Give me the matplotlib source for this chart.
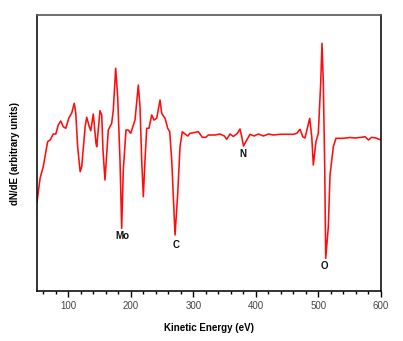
import matplotlib
matplotlib.use("Agg")
import matplotlib.pyplot as plt
from matplotlib.ticker import MultipleLocator, NullLocator

# Auger derivative spectrum: kinetic energy (eV) and dN/dE (arbitrary units)
energy = [50, 55, 60, 67, 71, 76, 80, 84, 88, 92, 96, 101, 105.5, 109.6, 112, 115,
          119, 121.5, 127, 129.5, 133.6, 136, 140, 144.3, 145.5, 150.7, 153.5, 155.5,
          158.7, 164, 169.4, 172, 175.8, 179, 182.7, 185.4, 188, 192.3, 196, 199.8,
          206.7, 212, 214.7, 217.4, 220, 222.7, 225.4, 229, 233.4, 237, 241.4, 246.7,
          249.4, 254.7, 259, 262.2, 265.4, 270.7, 275, 278.7, 282.3, 286.7, 291, 294.6,
          300, 308, 314.3, 319.8, 324, 334.6, 342.6, 349.5, 353.3, 358.6, 364, 370.3,
          374.6, 377.3, 380.2, 385.3, 390.6, 397, 404, 412, 420, 428, 438.6, 449.3,
          460, 465.3, 470.5, 475, 478.5, 486, 489.3, 491.8, 496, 499.8, 503.6, 505.7,
          507.8, 510, 511.6, 515.8, 518.5, 523.8, 528, 540, 550.5, 558.5, 569, 574.5,
          580, 585, 592, 600]
signal = [-69, -45, -33.7, -8.7, -7, -1, -1, 8, 12, 6.3, 4.7, 15, 20, 29.7, 20, -13.7,
          -38.7, -33.7, 6.3, 15.7, 6.3, 2.3, 19, -10.3, -13.7, 22.3, 18, -17, -47, 3,
          9.7, 23, 64.7, 36.3, -27, -95.3, -37, 3, 3, -0.3, 13, 48, 26.3, -27, -63.7,
          -27, 4.7, 4.7, 18, 13, 14.7, 33, 19.7, 14.7, 4.7, 1.3, -27, -102, -60.3,
          -13.7, 1.3, -1, -3, -0.3, 0.3, 1.3, -4.3, -4.3, -2, -2, -1, -3, -6.3, -1,
          -3.5, -0.3, 4, -3.7, -13, -7, -1.3, -3, -1, -3, -1, -2, -1.3, -1.3, -1.3,
          -0.3, 3.7, -3.7, -5, 14.7, -3.7, -32, -8.7, -0.3, 50, 89.7, 50, -33.7,
          -125.3, -93.7, -42, -13.7, -5.3, -5.3, -4.5, -5, -4.3, -3.7, -7, -4.3, -5, -7]

# Element labels placed beneath their characteristic minima
peak_labels = ["Mo", "C", "N", "O"]
label_energy = [186, 272, 379, 510]
label_signal = [-102.7, -112, -21.3, -132.7]

x_ticks = [100, 200, 300, 400, 500, 600]

fig = plt.figure(figsize=(4.03, 3.41), dpi=100)
ax = fig.add_axes([0.0918, 0.1466, 0.8536, 0.8094])

ax.plot(energy, signal, color="#ff0d0d", linewidth=1.15)

for name, xe, ys in zip(peak_labels, label_energy, label_signal):
    ax.text(xe, ys, name, ha="center", va="center", fontsize=7,
            fontweight="bold", family="Liberation Sans", color="#111111")

ax.set_xlim(50, 600)
ax.set_ylim(-158, 118)
ax.set_xticks(x_ticks)
ax.xaxis.set_minor_locator(MultipleLocator(20))
ax.yaxis.set_major_locator(NullLocator())
ax.tick_params(axis="x", which="major", direction="out", length=4, width=1,
               labelsize=7, labelcolor="#444444", pad=3)
ax.tick_params(axis="x", which="minor", direction="out", length=2, width=1)
for lbl in ax.get_xticklabels():
    lbl.set_family("Liberation Sans")

for side in ["left", "bottom", "right", "top"]:
    ax.spines[side].set_linewidth(1.2)
    ax.spines[side].set_color("#111111")
ax.spines["top"].set_color("#555555")

ax.set_xlabel("Kinetic Energy (eV)", fontsize=7, fontweight="bold",
              family="Liberation Sans", labelpad=9)
ax.set_ylabel("dN/dE (arbitrary units)", fontsize=7, fontweight="bold",
              family="Liberation Sans", labelpad=12)

fig.savefig("out.png", dpi=100)
